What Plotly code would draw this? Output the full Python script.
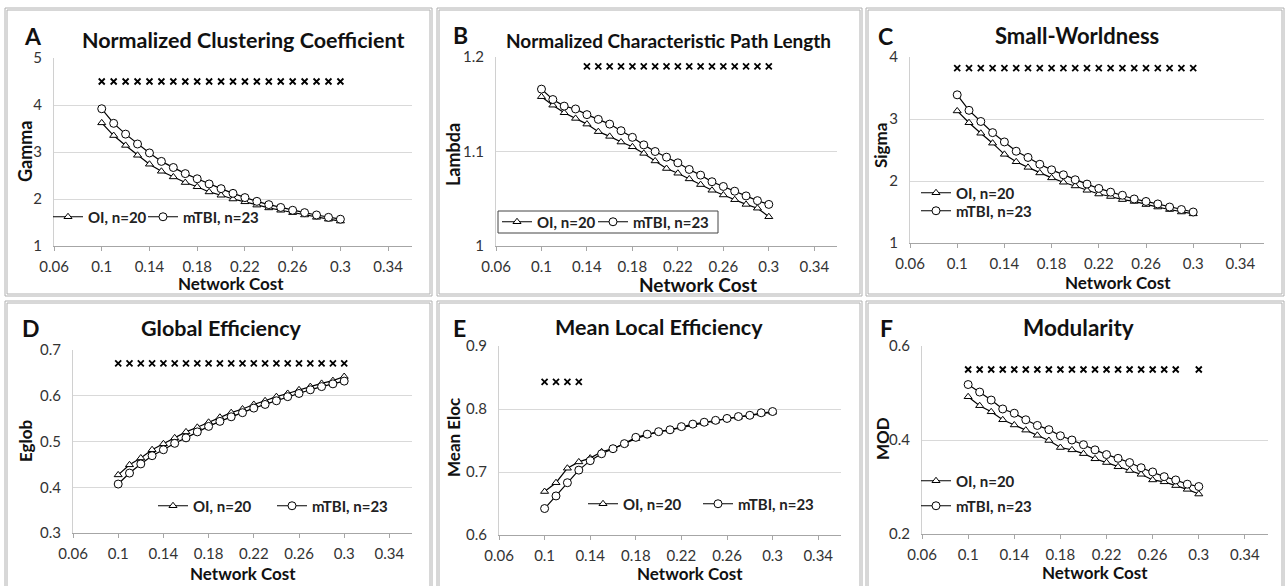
import plotly.graph_objects as go

W, H = 1286, 586
FONT = "Lato"

cost = [0.10, 0.11, 0.12, 0.13, 0.14, 0.15, 0.16, 0.17, 0.18, 0.19, 0.20,
        0.21, 0.22, 0.23, 0.24, 0.25, 0.26, 0.27, 0.28, 0.29, 0.30]

gamma_oi = [3.62, 3.35, 3.14, 2.93, 2.74, 2.59, 2.47, 2.35, 2.26, 2.15, 2.08,
            2.00, 1.94, 1.87, 1.81, 1.76, 1.71, 1.66, 1.61, 1.57, 1.53]
gamma_mtbi = [3.92, 3.61, 3.38, 3.17, 2.98, 2.80, 2.67, 2.54, 2.43, 2.32, 2.22,
              2.12, 2.03, 1.95, 1.88, 1.82, 1.76, 1.71, 1.66, 1.61, 1.57]

lambda_oi = [1.158, 1.149, 1.141, 1.135, 1.129, 1.121, 1.116, 1.110, 1.105, 1.098, 1.090,
             1.082, 1.077, 1.071, 1.065, 1.059, 1.054, 1.049, 1.044, 1.040, 1.031]
lambda_mtbi = [1.166, 1.155, 1.148, 1.145, 1.139, 1.134, 1.129, 1.122, 1.115, 1.107, 1.100,
               1.094, 1.088, 1.081, 1.075, 1.068, 1.063, 1.058, 1.053, 1.048, 1.044]

sigma_oi = [3.13, 2.94, 2.77, 2.61, 2.43, 2.31, 2.22, 2.13, 2.05, 1.98, 1.92,
            1.85, 1.79, 1.75, 1.70, 1.67, 1.62, 1.58, 1.54, 1.50, 1.47]
sigma_mtbi = [3.39, 3.14, 2.96, 2.78, 2.63, 2.48, 2.38, 2.27, 2.18, 2.10, 2.02,
              1.95, 1.88, 1.82, 1.77, 1.71, 1.67, 1.63, 1.58, 1.54, 1.50]

eglob_oi = [0.427, 0.449, 0.464, 0.482, 0.495, 0.508, 0.521, 0.531, 0.542, 0.553, 0.563,
            0.571, 0.581, 0.589, 0.598, 0.605, 0.613, 0.620, 0.627, 0.633, 0.642]
eglob_mtbi = [0.407, 0.431, 0.451, 0.469, 0.482, 0.496, 0.508, 0.521, 0.533, 0.544, 0.554,
              0.563, 0.573, 0.581, 0.589, 0.598, 0.605, 0.613, 0.620, 0.626, 0.632]

eloc_oi = [0.669, 0.683, 0.706, 0.716, 0.722, 0.732, 0.737, 0.745, 0.753, 0.759, 0.764,
           0.767, 0.771, 0.775, 0.778, 0.781, 0.785, 0.787, 0.790, 0.793, 0.795]
eloc_mtbi = [0.642, 0.662, 0.683, 0.703, 0.718, 0.729, 0.737, 0.745, 0.755, 0.760, 0.764,
             0.767, 0.772, 0.776, 0.779, 0.782, 0.785, 0.788, 0.790, 0.794, 0.796]

mod_oi = [0.492, 0.473, 0.460, 0.443, 0.432, 0.421, 0.410, 0.399, 0.384, 0.379, 0.371,
          0.360, 0.352, 0.343, 0.335, 0.327, 0.315, 0.311, 0.303, 0.295, 0.285]
mod_mtbi = [0.518, 0.502, 0.485, 0.466, 0.457, 0.443, 0.431, 0.422, 0.409, 0.400, 0.390,
            0.379, 0.369, 0.361, 0.352, 0.341, 0.332, 0.322, 0.315, 0.306, 0.301]

# significance markers (cost values and plotted level)
sig_gamma = cost
sig_lambda = cost[4:]
sig_sigma = cost
sig_eglob = cost
sig_eloc = cost[:4]
sig_mod = cost[:19] + [0.30]
sig_levels = [4.5, 1.19, 3.82, 0.671, 0.843, 0.55]

x_ticks = [0.06, 0.10, 0.14, 0.18, 0.22, 0.26, 0.30, 0.34]
x_labels = ["0.06", "0.1", "0.14", "0.18", "0.22", "0.26", "0.3", "0.34"]
y_ticks = [[1, 2, 3, 4, 5], [1, 1.1, 1.2], [1, 2, 3, 4],
           [0.3, 0.4, 0.5, 0.6, 0.7], [0.6, 0.7, 0.8, 0.9], [0.2, 0.4, 0.6]]
y_labels = [["1", "2", "3", "4", "5"], ["1", "1.1", "1.2"], ["1", "2", "3", "4"],
            ["0.3", "0.4", "0.5", "0.6", "0.7"], ["0.6", "0.7", "0.8", "0.9"], ["0.2", "0.4", "0.6"]]

letters = ["A", "B", "C", "D", "E", "F"]
titles = ["Normalized Clustering Coefficient", "Normalized Characteristic Path Length",
          "Small-Worldness", "Global Efficiency", "Mean Local Efficiency", "Modularity"]
ytitles = ["Gamma", "Lambda", "Sigma", "Eglob", "Mean Eloc", "MOD"]
series_names = ["OI, n=20", "mTBI, n=23"]

oi_data = [gamma_oi, lambda_oi, sigma_oi, eglob_oi, eloc_oi, mod_oi]
mtbi_data = [gamma_mtbi, lambda_mtbi, sigma_mtbi, eglob_mtbi, eloc_mtbi, mod_mtbi]
sig_x = [sig_gamma, sig_lambda, sig_sigma, sig_eglob, sig_eloc, sig_mod]

# ---------------- layout geometry (pixels) ----------------
plot_px = [  # left, right, top, bottom
    (54, 412, 58, 246),
    (496, 837, 57, 246),
    (910, 1264, 57, 243),
    (73, 412, 350, 533),
    (499, 841, 346, 535),
    (922, 1268, 346, 534),
]
panel_px = [
    (5, 432, 8, 296), (437, 862, 8, 296), (866, 1284, 8, 296),
    (5, 432, 301, 590), (437, 862, 301, 590), (866, 1284, 301, 590),
]
letter_pos = [(33, 36), (460, 35), (885, 36), (31, 328), (459, 328), (886, 328)]
title_pos = [(243, 40), (668, 40), (1077, 35), (221, 328), (659, 327), (1078, 327)]
title_size = [21.5, 19, 22, 21.5, 21.5, 22.5]
ytitle_pos = [(25, 152), (453, 155), (880, 145), (25, 441), (453, 438), (882, 439)]
ytitle_size = [18, 18, 17, 17, 17, 17]
xtitle_pos = [(231, 283), (698, 284), (1118, 282), (243, 573), (690, 573), (1095, 572)]
xtitle_size = [17, 19, 17, 17, 17, 17]
# legend entries: (panel, series, x where the label text starts, y centre)
legend_entries = [
    (0, 0, 88, 217), (0, 1, 183, 217),
    (1, 0, 537, 222), (1, 1, 633, 222),
    (2, 0, 956, 193), (2, 1, 956, 211),
    (3, 0, 193, 506), (3, 1, 312, 506),
    (4, 0, 623, 504), (4, 1, 738, 504),
    (5, 0, 956, 481), (5, 1, 956, 506),
]
legend_box = (498, 718, 211, 233)  # frame round panel B legend


def fx(px):
    return px / W


def fy(py):
    return 1 - py / H


fig = go.Figure()
layout = dict(
    width=W, height=H, margin=dict(l=0, r=0, t=0, b=0),
    paper_bgcolor="white", plot_bgcolor="white",
    font=dict(family=FONT, color="#222"),
    showlegend=True,
)

leg_font = dict(family=FONT, size=15, color="#222", weight="bold")
leg_names = {}
n = 1
for (p, s, tx, ty) in legend_entries:
    name = "legend" if n == 1 else "legend%d" % n
    leg_names[(p, s)] = name
    layout[name] = dict(x=fx(tx - 40), y=fy(ty), xanchor="left", yanchor="middle",
                        orientation="h", bgcolor="rgba(0,0,0,0)", itemwidth=30,
                        font=leg_font, borderwidth=0)
    n += 1

for i in range(6):
    ax = "" if i == 0 else str(i + 1)
    xref, yref = "x" + ax, "y" + ax
    fig.add_trace(go.Scatter(
        x=cost, y=oi_data[i], mode="lines+markers", name=series_names[0],
        xaxis=xref, yaxis=yref, legend=leg_names[(i, 0)],
        line=dict(color="black", width=1.2),
        marker=dict(symbol="triangle-up", size=7, color="white",
                    line=dict(color="black", width=1))))
    fig.add_trace(go.Scatter(
        x=cost, y=mtbi_data[i], mode="lines+markers", name=series_names[1],
        xaxis=xref, yaxis=yref, legend=leg_names[(i, 1)],
        line=dict(color="black", width=1.2),
        marker=dict(symbol="circle", size=8, color="white",
                    line=dict(color="black", width=1))))
    fig.add_trace(go.Scatter(
        x=sig_x[i], y=[sig_levels[i]] * len(sig_x[i]), mode="markers",
        xaxis=xref, yaxis=yref, showlegend=False, hoverinfo="skip",
        marker=dict(symbol="x-thin", size=6, color="black",
                    line=dict(color="black", width=1.8))))

for i in range(6):
    ax = "" if i == 0 else str(i + 1)
    l, r, t, b = plot_px[i]
    layout["xaxis" + ax] = dict(
        domain=[fx(l), fx(r)], range=[0.06, 0.36], anchor="y" + ax, automargin=False,
        tickvals=x_ticks, ticktext=x_labels, showgrid=False, zeroline=False,
        showline=True, linecolor="#a6a6a6", linewidth=1,
        ticks="outside", ticklen=4, tickcolor="#a6a6a6", ticklabelstandoff=3,
        tickfont=dict(size=15, color="#333"))
    ymin, ymax = y_ticks[i][0], y_ticks[i][-1]
    layout["yaxis" + ax] = dict(
        domain=[fy(b), fy(t)], range=[ymin, ymax], anchor="x" + ax, automargin=False,
        tickvals=y_ticks[i], ticktext=y_labels[i], showgrid=True,
        gridcolor="#d9d9d9", gridwidth=1, zeroline=False,
        showline=True, linecolor="#d0d0d0", linewidth=1, ticks="",
        ticklabelstandoff=8, tickfont=dict(size=15, color="#333"))

fig.update_layout(**layout)

shapes = []
for (l, r, t, b) in panel_px:
    for off in (0, 2):
        shapes.append(dict(type="rect", xref="paper", yref="paper",
                           x0=fx(l + off), x1=fx(r - off), y0=fy(b - off), y1=fy(t + off),
                           line=dict(color="#b0b0b0", width=1)))
bl, br, bt, bb = legend_box
shapes.append(dict(type="rect", xref="paper", yref="paper",
                   x0=fx(bl), x1=fx(br), y0=fy(bb), y1=fy(bt),
                   line=dict(color="#444", width=1)))
fig.update_layout(shapes=shapes)

for i in range(6):
    fig.add_annotation(x=fx(letter_pos[i][0]), y=fy(letter_pos[i][1]), xref="paper", yref="paper",
                       text="<b>%s</b>" % letters[i], showarrow=False,
                       font=dict(family=FONT, size=23, color="#111"),
                       xanchor="center", yanchor="middle")
    fig.add_annotation(x=fx(title_pos[i][0]), y=fy(title_pos[i][1]), xref="paper", yref="paper",
                       text="<b>%s</b>" % titles[i], showarrow=False,
                       font=dict(family=FONT, size=title_size[i], color="#111"),
                       xanchor="center", yanchor="middle")
    fig.add_annotation(x=fx(ytitle_pos[i][0]), y=fy(ytitle_pos[i][1]), xref="paper", yref="paper",
                       text="<b>%s</b>" % ytitles[i], showarrow=False, textangle=-90,
                       font=dict(family=FONT, size=ytitle_size[i], color="#111"),
                       xanchor="center", yanchor="middle")
    fig.add_annotation(x=fx(xtitle_pos[i][0]), y=fy(xtitle_pos[i][1]), xref="paper", yref="paper",
                       text="<b>Network Cost</b>", showarrow=False,
                       font=dict(family=FONT, size=xtitle_size[i], color="#111"),
                       xanchor="center", yanchor="middle")

fig.write_html("out.html", config={"displayModeBar": False},
               post_script="document.body.style.margin='0';document.body.style.overflow='hidden';")
